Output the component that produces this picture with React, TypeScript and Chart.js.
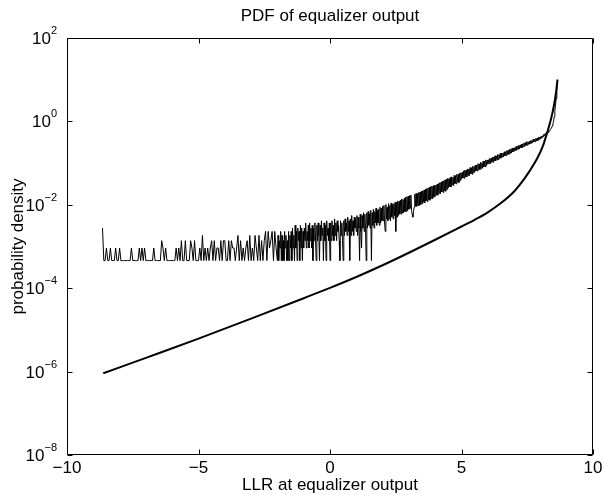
import React, { useEffect, useRef } from "react";
import { Chart, registerables } from "chart.js";

Chart.register(...registerables);

// ---- text ----
const titleText = "PDF of equalizer output";
const xLabelText = "LLR at equalizer output";
const yLabelText = "probability density";

// ---- ticks ----
const xTickValues = [-10, -5, 0, 5, 10];
const yTickExponents = [-8, -6, -4, -2, 0, 2];

// ---- smooth (theoretical) curve ----
const smoothLLR = [
  -8.62, -7, -5, -3, -1, 0, 1, 2, 3, 4, 5, 5.5, 6, 6.5, 7, 7.3, 7.6, 7.9, 8.1, 8.28, 8.42, 8.52, 8.6, 8.65,
];
const smoothPdf = [
  9.1e-7, 2.14e-6, 6.17e-6, 1.86e-5, 5.75e-5, 1.02e-4, 1.86e-4, 3.55e-4, 7.08e-4, 1.45e-3, 3.02e-3,
  4.37e-3, 6.61e-3, 1.1e-2, 2.09e-2, 3.55e-2, 6.61e-2, 0.138, 0.263, 0.603, 1.26, 2.51, 5.25, 10,
];

// ---- histogram (simulated) curve: counts per bin ----
const histUnitDensity = 4.6e-4; // pdf value of one count

// sparse tail, bins of 0.05 from -8.65 to -2.05
const tailStart = -8.65;
const tailBinWidth = 0.05;
const tailCounts = [
  6, 1, 1, 2, 1, 1, 2, 1, 1, 1, 2, 1, 1, 2, 1, 1, 1, 1, 1, 1,
  1, 1, 2, 1, 1, 1, 1, 1, 2, 1, 2, 1, 2, 1, 1, 1, 1, 1, 1, 2,
  1, 1, 1, 1, 1, 3, 2, 1, 2, 1, 1, 1, 1, 1, 1, 1, 2, 1, 2, 1,
  3, 1, 1, 3, 1, 1, 1, 3, 2, 1, 3, 1, 1, 1, 2, 1, 4, 1, 2, 1,
  2, 1, 2, 3, 1, 3, 1, 2, 2, 1, 3, 1, 3, 3, 1, 1, 3, 1, 3, 2,
  2, 1, 2, 4, 1, 3, 1, 2, 1, 2, 3, 1, 4, 1, 2, 1, 4, 2, 1, 4,
  1, 3, 1, 3, 5, 1, 5, 2, 3, 5, 1, 5, 2,
];

// dense body, bins of 0.025 from -2.0 to 8.65
const bodyStart = -2.0;
const bodyBinWidth = 0.025;
const bodyCounts = [
  1, 4, 1, 3, 2, 5, 1, 4, 1, 3, 1, 5, 2, 4, 1, 3, 1, 5, 1, 4,
  2, 5, 1, 6, 2, 4, 1, 7, 2, 5, 1, 6, 3, 5, 1, 7, 2, 6, 1, 5,
  2, 6, 3, 8, 2, 5, 3, 7, 2, 8, 3, 6, 2, 7, 1, 6, 3, 8, 3, 1,
  7, 3, 8, 4, 1, 7, 3, 9, 4, 6, 1, 8, 3, 7, 1, 9, 4, 6, 3, 8,
  1, 8, 3, 9, 4, 7, 3, 10, 4, 8, 3, 9, 5, 7, 3, 1, 9, 4, 8, 3,
  1, 9, 4, 10, 5, 8, 4, 11, 5, 9, 1, 10, 4, 12, 5, 9, 4, 11, 6, 10,
  5, 12, 4, 11, 6, 1, 13, 5, 2, 12, 6, 14, 5, 13, 6, 1, 14, 6, 15, 7,
  13, 6, 16, 1, 14, 7, 17, 6, 15, 8, 18, 7, 16, 8, 17, 7, 19, 8, 18, 9,
  20, 9, 21, 8, 5, 22, 10, 19, 9, 23, 10, 21, 9, 24, 11, 22, 10, 23, 12, 25,
  5, 25, 11, 27, 12, 26, 13, 28, 13, 30, 14, 29, 14, 31, 15, 33, 15, 34, 16, 35,
  17, 36, 18, 37, 16, 13, 11, 15, 19, 39, 20, 41, 20, 40, 21, 43, 21, 44, 22, 46,
  23, 47, 25, 49, 24, 51, 27, 53, 26, 55, 29, 57, 28, 59, 31, 61, 30, 62, 33, 64,
  35, 64, 38, 68, 37, 70, 41, 74, 40, 76, 44, 80, 43, 82, 47, 86, 46, 89, 51, 93,
  56, 92, 60, 98, 58, 102, 65, 100, 63, 110, 70, 108, 69, 118, 77, 116, 74, 126, 83, 127,
  90, 130, 95, 142, 94, 147, 102, 146, 101, 158, 110, 155, 109, 170, 119, 168, 117, 182, 128, 181,
  131, 195, 142, 193, 141, 210, 153, 208, 152, 226, 164, 222, 163, 242, 176, 240, 177, 260, 190, 258,
  205, 262, 212, 282, 213, 281, 228, 302, 228, 303, 244, 325, 245, 324, 262, 348, 263, 347, 282, 372,
  286, 378, 304, 380, 307, 406, 326, 408, 330, 435, 349, 438, 353, 466, 374, 470, 379, 500, 402, 502,
  422, 512, 437, 542, 444, 549, 470, 580, 474, 588, 502, 620, 508, 628, 538, 662, 545, 672, 575, 706,
  582, 706, 613, 716, 621, 752, 653, 764, 662, 801, 697, 814, 706, 852, 742, 866, 753, 906, 790, 920,
  830, 950, 860, 985, 930, 1060, 980, 1100, 1040, 1170, 1100, 1230, 1190, 1300, 1270, 1380, 1380, 1520, 1700, 1900,
  2170, 2800, 3900, 5300, 7700, 12000, 21700,
];

const FONT = '"Liberation Sans", Arial, Helvetica, sans-serif';

const fmtNum = (v: number) => (v < 0 ? "\u2212" + Math.abs(v) : String(v));

const matlabAxes = {
  id: "matlabAxes",
  afterDraw(chart: any) {
    const { ctx, chartArea: a, scales } = chart;
    const xs = scales.x;
    const ys = scales.y;
    const L = Math.round(a.left) + 0.5;
    const R = Math.round(a.right) - 0.5;
    const T = Math.round(a.top) + 0.5;
    const B = Math.round(a.bottom) - 0.5;
    ctx.save();
    ctx.strokeStyle = "#000";
    ctx.lineWidth = 1;
    ctx.beginPath();
    ctx.rect(L, T, R - L, B - T);
    const tl = 5;
    xTickValues.forEach((v) => {
      const px = Math.round(xs.getPixelForValue(v)) + 0.5;
      ctx.moveTo(px, B);
      ctx.lineTo(px, B - tl);
      ctx.moveTo(px, T);
      ctx.lineTo(px, T + tl);
    });
    yTickExponents.forEach((e) => {
      const py = Math.round(ys.getPixelForValue(Math.pow(10, e))) + 0.5;
      ctx.moveTo(L, py);
      ctx.lineTo(L + tl, py);
      ctx.moveTo(R, py);
      ctx.lineTo(R - tl, py);
    });
    ctx.stroke();

    ctx.fillStyle = "#000";
    ctx.textBaseline = "alphabetic";
    // x tick labels
    ctx.font = `17px ${FONT}`;
    ctx.textAlign = "center";
    xTickValues.forEach((v) => {
      const px = xs.getPixelForValue(v);
      ctx.fillText(fmtNum(v), px, a.bottom + 18);
    });
    // y tick labels (10^e)
    yTickExponents.forEach((e) => {
      const py = ys.getPixelForValue(Math.pow(10, e));
      const expText = fmtNum(e);
      ctx.font = `11px ${FONT}`;
      const wExp = ctx.measureText(expText).width;
      ctx.font = `17px ${FONT}`;
      const wBase = ctx.measureText("10").width;
      const right = a.left - 10;
      ctx.textAlign = "left";
      ctx.fillText("10", right - wExp - wBase, py + 6);
      ctx.font = `11px ${FONT}`;
      ctx.fillText(expText, right - wExp, py - 4);
    });
    // title
    ctx.font = `17px ${FONT}`;
    ctx.textAlign = "center";
    ctx.fillText(titleText, (a.left + a.right) / 2, a.top - 17);
    // x label
    ctx.fillText(xLabelText, (a.left + a.right) / 2, a.bottom + 35);
    // y label
    ctx.save();
    ctx.translate(23, (a.top + a.bottom) / 2);
    ctx.rotate(-Math.PI / 2);
    ctx.fillText(yLabelText, 0, 0);
    ctx.restore();
    ctx.restore();
  },
};

export default function App() {
  const ref = useRef<HTMLCanvasElement | null>(null);
  useEffect(() => {
    if (!ref.current) return;
    const histData = [
      ...tailCounts.map((c, i) => ({ x: tailStart + i * tailBinWidth, y: c * histUnitDensity })),
      ...bodyCounts.map((c, i) => ({ x: bodyStart + i * bodyBinWidth, y: c * histUnitDensity })),
    ];
    const smoothData = smoothLLR.map((x, i) => ({ x, y: smoothPdf[i] }));
    const chart = new Chart(ref.current, {
      type: "line",
      data: {
        datasets: [
          {
            label: "simulated",
            data: histData,
            borderColor: "#000",
            borderWidth: 1,
            pointRadius: 0,
            tension: 0,
            borderJoinStyle: "bevel",
            fill: false,
          },
          {
            label: "theory",
            data: smoothData,
            borderColor: "#000",
            borderWidth: 2,
            pointRadius: 0,
            cubicInterpolationMode: "monotone",
            fill: false,
          },
        ],
      },
      options: {
        responsive: false,
        devicePixelRatio: 1,
        animation: false,
        events: [],
        layout: { padding: { top: 38, right: 11, bottom: 0, left: 0 } },
        plugins: {
          legend: { display: false },
          title: { display: false },
          tooltip: { enabled: false },
        },
        scales: {
          x: {
            type: "linear",
            min: -10,
            max: 10,
            grid: { display: false },
            border: { display: false },
            ticks: { display: false },
            afterFit: (s: any) => {
              s.height = 40;
            },
          },
          y: {
            type: "logarithmic",
            min: 1e-8,
            max: 1e2,
            grid: { display: false },
            border: { display: false },
            ticks: { display: false },
            afterFit: (s: any) => {
              s.width = 67;
            },
          },
        },
      },
      plugins: [matlabAxes],
    } as any);
    return () => chart.destroy();
  }, []);
  return (
    <div style={{ position: "absolute", left: 0, top: 0, width: 604, height: 495, background: "#fff" }}>
      <canvas ref={ref} width={604} height={495} />
    </div>
  );
}
